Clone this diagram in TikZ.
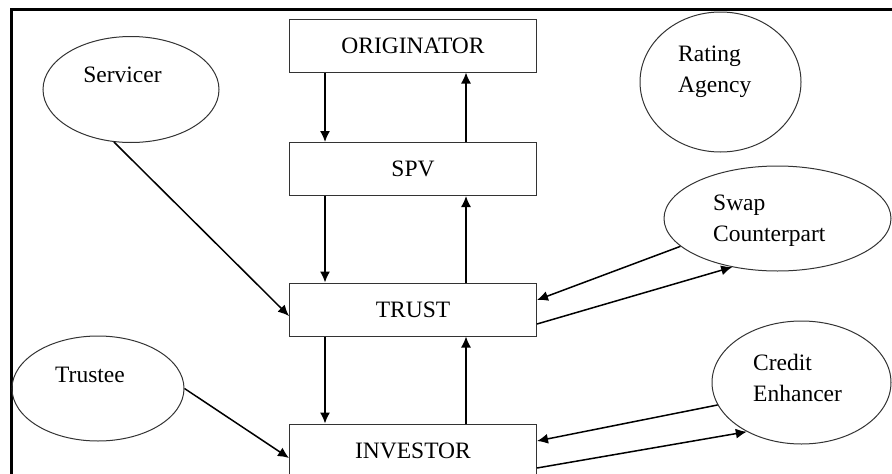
\documentclass[tikz,border=0pt]{standalone}
\usepackage{fontspec}
\setmainfont{Liberation Serif}
\usetikzlibrary{arrows.meta,shapes.geometric}
\begin{document}
\begin{tikzpicture}[x=1pt,y=-1pt,
  party/.style={draw=black!80, line width=1pt, rectangle,
    minimum width=247pt, minimum height=53pt, inner sep=0pt,
    font=\fontsize{23.5}{27}\selectfont},
  agent/.style={draw=black!80, line width=1pt, ellipse, inner sep=0pt},
  lbl/.style={font=\fontsize{23.5}{31}\selectfont, align=left, inner sep=0pt},
  flow/.style={line width=1.5pt, -{Latex[length=11pt,width=10pt]}}]
\useasboundingbox (0,0) rectangle (892,474);
\path[clip] (0,0) rectangle (892,474);

% frame
\draw[line width=3pt] (892,9) -- (11,9) -- (11,480);

% main chain
\node[party] (orig) at (413,45.5) {ORIGINATOR};
\node[party] (spv)  at (413,169)  {SPV};
\node[party] (trust) at (413,309.5) {TRUST};
\node[party] (inv)  at (413,450.5) {INVESTOR};

% other parties
\node[agent, minimum width=176pt, minimum height=106pt] (serv) at (131,89.5) {};
\node[agent, minimum width=161pt, minimum height=140pt] (rate) at (720.5,82) {};
\node[agent, minimum width=227pt, minimum height=105pt] (swap) at (777.5,218.5) {};
\node[agent, minimum width=179pt, minimum height=123pt] (cred) at (801.5,382.5) {};
\node[agent, minimum width=172pt, minimum height=105pt] (trustee) at (98,388.5) {};

\node[lbl] (servtxt) at (122.5,75) {Servicer};
\node[lbl, anchor=west] (ratetxt) at (678,71.5) {Rating\\Agency};
\node[lbl, anchor=west] (swaptxt) at (713,221) {Swap\\Counterpart};
\node[lbl, anchor=west] (credtxt) at (753,378) {Credit\\Enhancer};
\node[lbl] (trusteetxt) at (90,375) {Trustee};

% flows down the chain
\draw[flow] ([xshift=36pt]orig.south west) -- ([xshift=36pt]spv.north west);
\draw[flow] ([xshift=36pt]spv.south west) -- ([xshift=36pt]trust.north west);
\draw[flow] ([xshift=36pt]trust.south west) -- ([xshift=36pt]inv.north west);
% flows up the chain
\draw[flow] ([xshift=-71pt]spv.north east) -- ([xshift=-71pt]orig.south east);
\draw[flow] ([xshift=-71pt]trust.north east) -- ([xshift=-71pt]spv.south east);
\draw[flow] ([xshift=-71pt]inv.north east) -- ([xshift=-71pt]trust.south east);

% side parties
\draw[flow] (serv.252) -- ([yshift=-6.5pt]trust.west);
\draw[flow] (trustee.east) -- ([yshift=-7.5pt]inv.west);
\draw[flow] (swap.196) -- ([yshift=9.5pt]trust.east);
\draw[flow] ([yshift=-14.5pt]trust.east) -- (swap.227);
\draw[flow] (cred.195) -- ([yshift=9.5pt]inv.east);
\draw[flow] ([yshift=-17.5pt]inv.east) -- (cred.222);
\end{tikzpicture}
\end{document}
